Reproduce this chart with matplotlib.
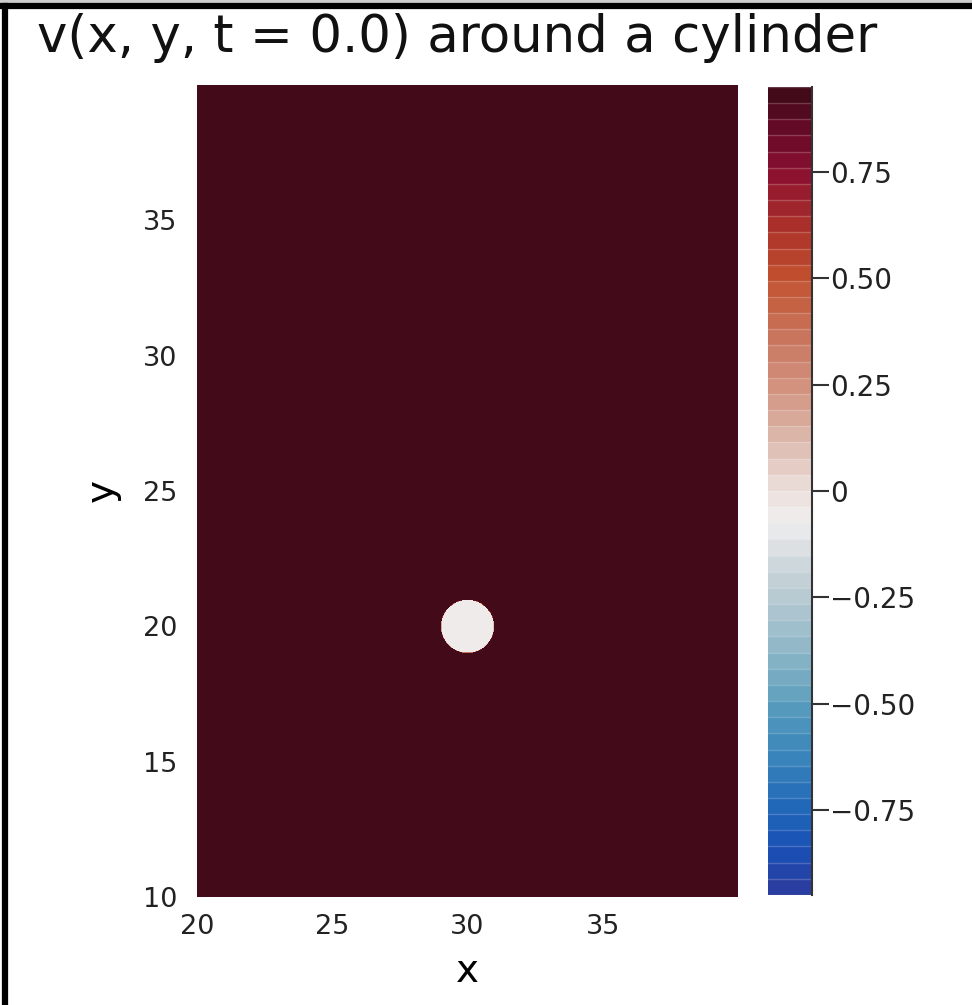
import numpy as np
import matplotlib.pyplot as plt
from matplotlib.colors import LinearSegmentedColormap
from matplotlib.lines import Line2D
from matplotlib.patches import Rectangle

# Dominio y cilindro
x_lim = [20, 40]
y_lim = [10, 40]
centro_cilindro = (30, 20)
radio_cilindro = 1.0
v_entrada = 0.93      # valor uniforme del campo en t = 0
v_cilindro = -0.05    # valor dentro del cilindro
v_max = 0.95

x_ticks = [20, 25, 30, 35]
y_ticks = [10, 15, 20, 25, 30, 35]
cb_ticks = [-0.75, -0.5, -0.25, 0, 0.25, 0.5, 0.75]
cb_labels = ['\u22120.75', '\u22120.50', '\u22120.25', '0', '0.25', '0.50', '0.75']

# Colores del mapa, por valor (de abajo hacia arriba)
val_colores = [-0.95, -0.85, -0.75, -0.62, -0.5, -0.37, -0.25, -0.15, -0.07, 0.0,
               0.12, 0.25, 0.37, 0.5, 0.62, 0.75, 0.85, 0.95]
colores = ['#2c3b9c', '#1a4fb5', '#1f66b8', '#3a86bb', '#5a9dbc', '#90b8c8', '#b8cad2',
           '#d5dcdf', '#f0eeee', '#ece0dc', '#dcb8ac', '#d2927e', '#c8735a', '#c2522f',
           '#ac322b', '#8b1030', '#660a28', '#3d0a17']
pos = [(v + v_max) / (2 * v_max) for v in val_colores]
cmap = LinearSegmentedColormap.from_list('vel', list(zip(pos, colores)))

xs = np.linspace(x_lim[0], x_lim[1], 801)
ys = np.linspace(y_lim[0], y_lim[1], 1201)
X, Y = np.meshgrid(xs, ys)
R = np.hypot(X - centro_cilindro[0], Y - centro_cilindro[1])
V = np.where(R < radio_cilindro, v_cilindro, v_entrada)

niveles = np.linspace(-v_max, v_max, 51)

fig = plt.figure(figsize=(9.72, 10.05), dpi=100)
ax = fig.add_axes([0.2027, 0.1075, 0.5566, 0.8079])
cs = ax.contourf(X, Y, V, levels=niveles, cmap=cmap, vmin=-v_max, vmax=v_max)
ax.set_xlim(x_lim)
ax.set_ylim(y_lim)
ax.set_xticks(x_ticks)
ax.set_yticks(y_ticks)
ax.tick_params(length=0, labelsize=19.5, colors='#222222')
ax.tick_params(axis='x', pad=12)
ax.tick_params(axis='y', pad=14)
for s in ax.spines.values():
    s.set_visible(False)
ax.set_xlabel('x', fontsize=28, labelpad=9)
ax.set_ylabel('y', fontsize=28, labelpad=16)

cax = fig.add_axes([0.790, 0.1095, 0.045, 0.8040])
cbar = fig.colorbar(cs, cax=cax)
cbar.outline.set_visible(False)
cbar.set_ticks(cb_ticks)
cbar.set_ticklabels(cb_labels)
cax.tick_params(length=12, width=1.5, labelsize=20, color='#333333', labelcolor='#222222', pad=1)
for lev in niveles:
    cax.axhline(lev, color='white', alpha=0.2, lw=1)
cax.plot([1, 1], [0, 1], transform=cax.transAxes, color='#333333', lw=1.5, clip_on=False)

fig.text(0.470, 0.962, 'v(x, y, t = 0.0) around a cylinder', fontsize=37,
         ha='center', va='center', color='#111111')

# Marco negro arriba e izquierda
fig.patches.append(Rectangle((0, 0.997), 1, 0.003, transform=fig.transFigure,
                             color='#cccccc', zorder=0))
fig.lines.append(Line2D([0.005, 0.005], [0, 0.994], transform=fig.transFigure,
                        color='black', lw=4.5))
fig.lines.append(Line2D([0.003, 1], [0.994, 0.994], transform=fig.transFigure,
                        color='black', lw=4.5))

fig.savefig('out.png', dpi=100)
